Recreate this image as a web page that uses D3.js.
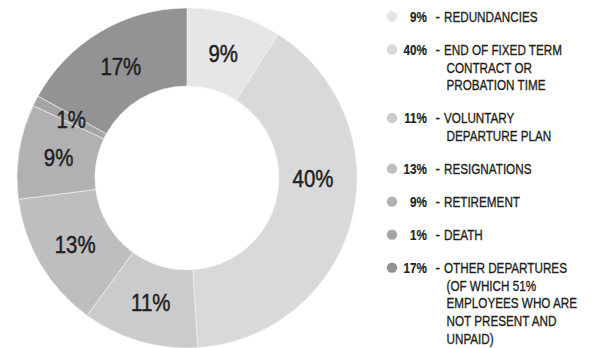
<!DOCTYPE html>
<html>
<head>
<meta charset="utf-8">
<script src="https://cdn.jsdelivr.net/npm/d3@7/dist/d3.min.js"></script>
<style>
  html, body { margin: 0; padding: 0; background: #fff; }
  svg { display: block; }
</style>
</head>
<body>
<svg id="chart" width="593" height="348"></svg>
<script>
// Reasons for leaving, share of departures (%)
const categories = [
  "REDUNDANCIES",
  "END OF FIXED TERM|CONTRACT OR|PROBATION TIME",
  "VOLUNTARY|DEPARTURE PLAN",
  "RESIGNATIONS",
  "RETIREMENT",
  "DEATH",
  "OTHER DEPARTURES|(OF WHICH 51%|EMPLOYEES WHO ARE|NOT PRESENT AND|UNPAID)"
];
const values = [9, 40, 11, 13, 9, 1, 17];
const colors = ["#e6e6e8", "#d9d9db", "#cbcbcd", "#bebec0", "#b1b1b3", "#a4a4a6", "#939396"];

const FONT = "'Liberation Sans', Arial, sans-serif";
const TEXT = "#231f20";

const svg = d3.select("#chart");
const cx = 187, cy = 178, rOuter = 170, rInner = 92;

// Condensed-looking text: regular sans squeezed horizontally, with a hairline stroke for weight
function squeezedText(parent, x, y, str, opts) {
  const sx = opts.sx || 0.8;
  return parent.append("text")
    .attr("transform", `translate(${x},${y}) scale(${sx},1)`)
    .attr("dy", "0.36em")
    .attr("text-anchor", opts.anchor || "start")
    .attr("font-family", FONT)
    .attr("font-size", opts.size)
    .attr("font-weight", opts.weight || "normal")
    .attr("fill", TEXT)
    .attr("stroke", TEXT)
    .attr("stroke-width", opts.stroke || 0.35)
    .text(str);
}

const data = values.map((v, i) => ({ value: v, label: categories[i], color: colors[i] }));

const pie = d3.pie().value(d => d.value).sort(null);
const arcs = pie(data);
const arc = d3.arc().innerRadius(rInner).outerRadius(rOuter);
const labelArc = d3.arc().innerRadius(130).outerRadius(130);

const g = svg.append("g").attr("transform", `translate(${cx},${cy})`);

g.selectAll("path.slice")
  .data(arcs)
  .enter().append("path")
  .attr("class", "slice")
  .attr("d", arc)
  .attr("fill", d => d.data.color)
  .attr("stroke", "#f4f4f4")
  .attr("stroke-width", 0.6);

// Slice labels sit on the ring's mid radius; the largest slice keeps its label level at 3 o'clock
const maxVal = d3.max(values);
arcs.forEach(d => {
  const p = d.data.value === maxVal ? [126, 0] : labelArc.centroid(d);
  squeezedText(g, p[0], p[1], d.data.value + "%", { size: 24, sx: 0.85, anchor: "middle", stroke: 0.5 });
});

// Legend
const lineH = 17.7, itemGap = 33;
const legend = svg.append("g");
let y = 16.5;
data.forEach(d => {
  const lines = d.label.split("|");
  const row = legend.append("g");
  row.append("circle")
    .attr("cx", 392).attr("cy", y).attr("r", 5.2)
    .attr("fill", d.color);
  squeezedText(row, 427, y, d.value + "%", { size: 15, sx: 0.78, anchor: "end", weight: "bold", stroke: 0.2 });
  squeezedText(row, 435.5, y, "-", { size: 15, sx: 0.9 });
  lines.forEach((ln, j) => {
    squeezedText(row, j === 0 ? 444 : 446.5, y + j * lineH, ln, { size: 15, sx: 0.78 });
  });
  y += (lines.length - 1) * lineH + itemGap;
});
</script>
</body>
</html>
